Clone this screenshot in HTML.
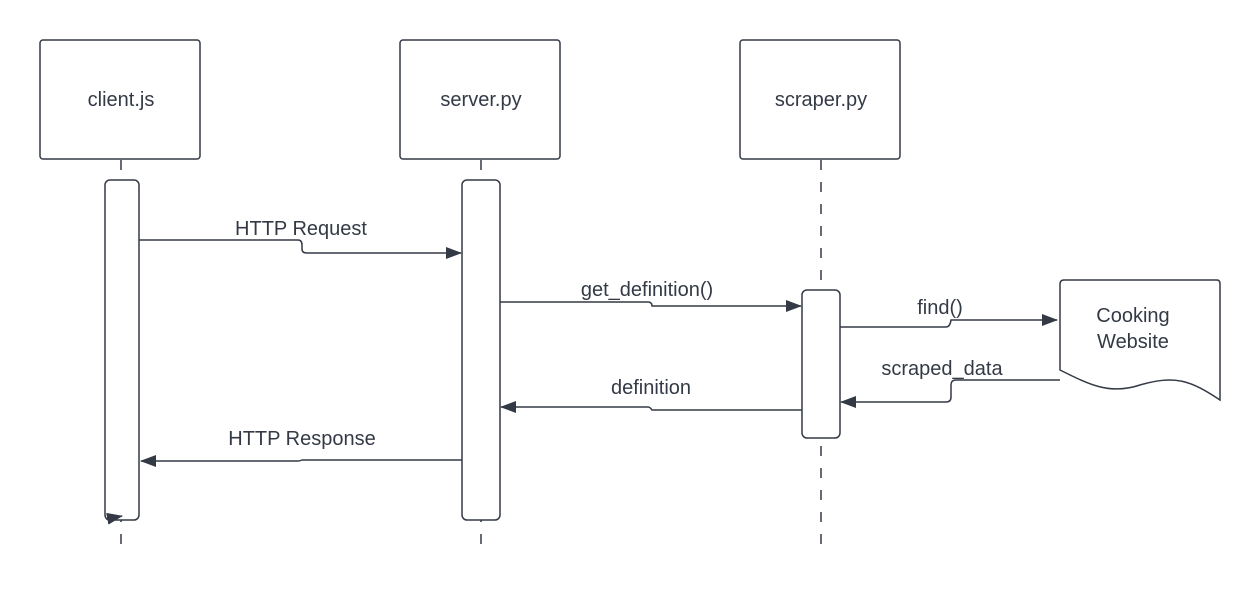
<!DOCTYPE html>
<html><head><style>body{margin:0;background:#fff}</style></head><body>
<svg width="1260" height="590" xmlns="http://www.w3.org/2000/svg" font-family="Liberation Sans, Arial, sans-serif" font-size="20" fill="none">
<defs><marker id="a" markerWidth="16" markerHeight="12" refX="15" refY="6" orient="auto" markerUnits="userSpaceOnUse"><path d="M0,0 L16,6 L0,12 Z" fill="#343a45"/></marker></defs>
<g stroke="#343a45" stroke-width="1.5">
<line x1="121" y1="160" x2="121" y2="555" stroke-dasharray="10,12"/>
<line x1="481" y1="160" x2="481" y2="555" stroke-dasharray="10,12"/>
<line x1="821" y1="160" x2="821" y2="555" stroke-dasharray="10,12"/>
<rect x="40" y="40" width="160" height="119" rx="3" fill="#fff"/>
<rect x="400" y="40" width="160" height="119" rx="3" fill="#fff"/>
<rect x="740" y="40" width="160" height="119" rx="3" fill="#fff"/>
<rect x="105" y="180" width="34" height="340" rx="5" fill="#fff"/>
<rect x="462" y="180" width="38" height="340" rx="5" fill="#fff"/>
<rect x="802" y="290" width="38" height="148" rx="5" fill="#fff"/>
<path d="M1064,280 H1217 Q1220,280 1220,284 V400 C1190,380 1175,375 1140,385 C1110,395 1090,385 1060,370 V284 Q1060,280 1064,280 Z" fill="#fff"/>
<path d="M139,240 H298 Q302,240 302,245 V249 Q302,253 307,253 H461" marker-end="url(#a)"/>
<path d="M500,302 H648 Q652,302 652,306 H801" marker-end="url(#a)"/>
<path d="M840,327 H946 Q950,327 951,320 H1057" marker-end="url(#a)"/>
<path d="M1060,380 H956 Q951,380 951,385 V397 Q951,402 946,402 H841" marker-end="url(#a)"/>
<path d="M802,410 H652 Q650,407 648,407 H501" marker-end="url(#a)"/>
<path d="M462,460 H302 Q300,461 298,461 H141" marker-end="url(#a)"/>
<path d="M106,519 L122,516" marker-end="url(#a)"/>
</g>
<g fill="#343a45" text-anchor="middle">
<text x="121" y="106">client.js</text>
<text x="481" y="106">server.py</text>
<text x="821" y="106">scraper.py</text>
<text x="1133" y="322">Cooking</text>
<text x="1133" y="348">Website</text>
<text x="301" y="235">HTTP Request</text>
<text x="647" y="296">get_definition()</text>
<text x="940" y="314">find()</text>
<text x="942" y="375">scraped_data</text>
<text x="651" y="394">definition</text>
<text x="302" y="445">HTTP Response</text>
</g>
</svg>
</body></html>
